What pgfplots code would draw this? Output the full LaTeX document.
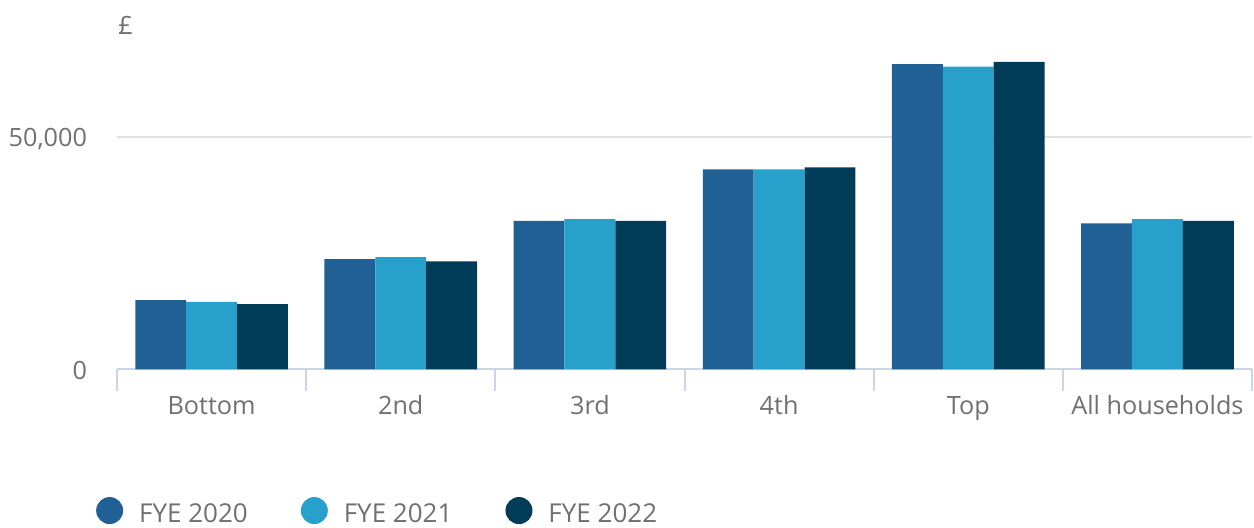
\documentclass[border=0pt]{standalone}
\usepackage{pgfplots}
\pgfplotsset{compat=1.18}
\usepackage{fontspec}
\setmainfont{Open Sans}
\definecolor{c20}{HTML}{206095}
\definecolor{c21}{HTML}{27A0CC}
\definecolor{c22}{HTML}{003C57}
\definecolor{tgrey}{HTML}{707070}
\definecolor{gridc}{HTML}{E2E2E2}
\definecolor{axc}{HTML}{CCD4EA}
\newcommand{\f}{\fontsize{12.6pt}{15pt}\selectfont}
\newcommand{\lf}{\fontsize{13pt}{15.6pt}\selectfont}
\begin{document}
\begin{tikzpicture}[x=1pt,y=1pt]
\path[use as bounding box] (0,0) rectangle (627,263.5);
\begin{axis}[
  at={(58.5pt,78.85pt)}, anchor=south west,
  scale only axis, width=567.5pt, height=162.8pt,
  xmin=-0.5, xmax=5.5, ymin=0, ymax=70000,
  ybar=0pt, bar width=0.269,
  axis lines*=left,
  y axis line style={draw=none},
  x axis line style={axc, line width=1pt},
  xtick={0,...,5},
  xticklabels={Bottom,2nd,3rd,4th,Top,All households},
  minor xtick={-0.5,0.5,1.5,2.5,3.5,4.5,5.5},
  ytick={0,50000},
  major tick length=0pt, minor tick length=11pt, tick align=outside,
  minor x tick style={axc, line width=1pt},
  ymajorgrids, grid style={gridc, line width=1pt},
  scaled y ticks=false,
  /pgf/number format/1000 sep={,},
  /pgf/number format/assume math mode=true,
  tick label style={font=\f, text=tgrey},
  xticklabel style={anchor=base, yshift=-22.5pt},
  yticklabel style={anchor=base east, xshift=-11.5pt, yshift=-5pt},
  legend columns=3,
  legend style={at={(-0.024,-0.436)}, anchor=west, draw=none, fill=none,
    font=\lf, text=tgrey, nodes={inner sep=0pt},
    /tikz/every odd column/.append style={column sep=8pt},
    /tikz/every even column/.append style={column sep=26.5pt}},
  legend image code/.code={\fill[#1] (6.75pt,2pt) circle (6.75pt);},
]
\addplot[fill=c20, draw=none] coordinates {(0,14900) (1,23700) (2,31900) (3,43000) (4,65600) (5,31400)};
\addplot[fill=c21, draw=none] coordinates {(0,14500) (1,24100) (2,32300) (3,43000) (4,65100) (5,32300)};
\addplot[fill=c22, draw=none] coordinates {(0,14000) (1,23200) (2,31900) (3,43400) (4,66100) (5,31900)};
\legend{FYE 2020, FYE 2021, FYE 2022}
\end{axis}
\node[anchor=base west, inner sep=0pt, font=\f, text=tgrey] at (59,246.5) {£};
\end{tikzpicture}
\end{document}
